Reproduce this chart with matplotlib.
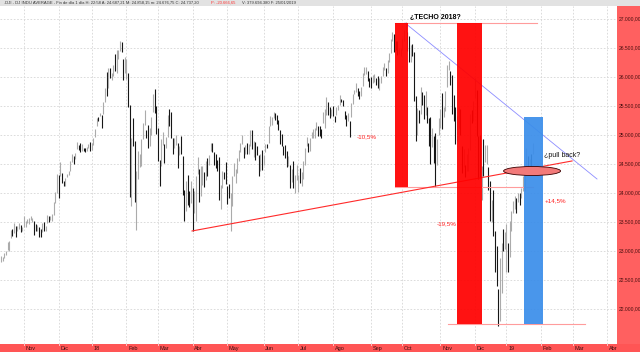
import numpy as np
import pandas as pd
import matplotlib
matplotlib.use("Agg")
import matplotlib.pyplot as plt
from matplotlib.patches import Rectangle, Ellipse
from matplotlib.transforms import blended_transform_factory

plt.rcParams['font.family'] = ['Liberation Sans', 'DejaVu Sans']

# DJIA daily bars, 12 Oct 2017 .. 25 Jan 2019 (one entry per trading day)
closes = [
    # Oct 2017
    22841, 22871, 22957, 22997, 23158, 23163, 23329, 23274, 23441, 23330, 23401, 23434, 23349, 23377,
    # Nov
    23436, 23516, 23539, 23549, 23557, 23564, 23462, 23423, 23440, 23410, 23272, 23458, 23358, 23430,
    23590, 23526, 23558, 23580, 23836, 23940, 24272,
    # Dec
    24231, 24290, 24180, 24140, 24211, 24329, 24386, 24504, 24585, 24509, 24651, 24792, 24754, 24726,
    24782, 24754, 24746, 24775, 24838, 24719,
    # Jan 2018
    24824, 24922, 25075, 25296, 25283, 25385, 25369, 25574, 25803, 25792, 26116, 26017, 26072, 26214,
    26211, 26252, 26393, 26617, 26439, 26076, 26149,
    # Feb
    26186, 25521, 24346, 24913, 24893, 23860, 24191, 24601, 24641, 24893, 25200, 25219, 24965, 24798,
    24963, 25310, 25710, 25410, 25029,
    # Mar
    24608, 24538, 24875, 24885, 24801, 24895, 25336, 25179, 25008, 24759, 24874, 24947, 24611, 24728,
    24683, 23958, 23533, 24202, 23857, 23849, 24103,
    # Apr
    23644, 24033, 24264, 24505, 23933, 23979, 24408, 24190, 24484, 24360, 24573, 24787, 24748, 24665,
    24463, 24448, 24024, 24084, 24322, 24311, 24163,
    # May
    24100, 23925, 23930, 24263, 24357, 24361, 24543, 24740, 24831, 24900, 24707, 24769, 24714, 24715,
    25013, 24834, 24887, 24812, 24753, 24362, 24668, 24416,
    # Jun
    24635, 24813, 24799, 25146, 25241, 25317, 25322, 25320, 25201, 25175, 25090, 24988, 24700, 24658,
    24462, 24581, 24252, 24284, 24118, 24216, 24271,
    # Jul
    24307, 24175, 24357, 24456, 24776, 24920, 24700, 24925, 25019, 25064, 25120, 25200, 25065, 25058,
    25044, 25241, 25415, 25527, 25451, 25307, 25415,
    # Aug
    25333, 25327, 25463, 25502, 25629, 25583, 25509, 25313, 25188, 25300, 25162, 25559, 25669, 25759,
    25823, 25733, 25657, 25790, 26050, 26065, 26124, 25987, 25965,
    # Sep
    25952, 25975, 25996, 25917, 25857, 25971, 25999, 26145, 26155, 26062, 26246, 26406, 26657, 26743,
    26562, 26492, 26385, 26440, 26458,
    # Oct
    26651, 26774, 26828, 26627, 26447, 26487, 26431, 25599, 25053, 25340, 25251, 25799, 25706, 25379,
    25444, 25317, 25191, 24583, 24985, 24689, 24443, 24875, 25116,
    # Nov
    25381, 25271, 25462, 25636, 26180, 26191, 25989, 25388, 25287, 25081, 25290, 25413, 25018, 24465,
    24465, 24286, 24640, 24749, 25366, 25339, 25538,
    # Dec
    25826, 25027, 24947, 24389, 24423, 24370, 24527, 24597, 24101, 23593, 23676, 23324, 22860, 22445,
    21792, 22878, 23139, 23062, 23327,
    # Jan 2019
    23346, 22686, 23433, 23531, 23787, 23880, 23879, 23996, 23910, 24066, 24207, 24370, 24706, 24405,
    24576, 24553, 24737,
]
highs = [
    22906, 22904, 22961, 23002, 23159, 23165, 23368, 23372, 23474, 23433, 23439, 23485, 23445, 23414,
    23602, 23517, 23557, 23565, 23602, 23565, 23518, 23461, 23450, 23418, 23376, 23485, 23497, 23433,
    23617, 23602, 23602, 23638, 23845, 24009, 24327,
    24302, 24534, 24350, 24208, 24258, 24330, 24387, 24552, 24669, 24629, 24690, 24876, 24828, 24859,
    24842, 24784, 24768, 24799, 24843, 24876,
    24864, 24941, 25106, 25299, 25311, 25386, 25340, 25576, 25803, 26087, 26154, 26153, 26072, 26215,
    26392, 26459, 26458, 26617, 26609, 26307, 26338,
    26307, 26062, 25520, 24946, 25294, 24903, 24382, 24720, 24669, 24925, 25203, 25433, 25086, 25174,
    25122, 25310, 25710, 25800, 25505,
    25123, 24565, 24925, 25058, 24839, 24968, 25336, 25449, 25390, 24948, 24950, 25000, 24867, 24817,
    24977, 24633, 24044, 24203, 24314, 24034, 24200,
    24094, 24034, 24300, 24623, 24412, 24458, 24459, 24365, 24555, 24597, 24659, 24858, 24858, 24711,
    24672, 24575, 24627, 24131, 24378, 24367, 24535,
    24117, 24152, 23996, 24300, 24516, 24420, 24597, 24746, 24868, 25002, 24790, 24825, 24868, 24839,
    25087, 25087, 24890, 24879, 24818, 24653, 24680, 24743,
    24656, 24838, 24845, 25147, 25326, 25317, 25403, 25382, 25339, 25264, 25090, 25014, 24817, 24832,
    24732, 24630, 24478, 24407, 24548, 24317, 24482,
    24307, 24431, 24361, 24544, 24776, 24969, 24854, 24951, 25050, 25097, 25126, 25217, 25150, 25150,
    25098, 25388, 25450, 25648, 25569, 25477, 25448,
    25497, 25327, 25488, 25510, 25692, 25629, 25596, 25422, 25350, 25377, 25248, 25559, 25709, 25781,
    25888, 25808, 25764, 25823, 26072, 26167, 26168, 26107, 25974,
    25994, 26031, 26057, 25981, 26022, 25990, 26017, 26172, 26237, 26149, 26288, 26415, 26657, 26769,
    26743, 26617, 26618, 26503, 26492,
    26677, 26817, 26951, 26771, 26700, 26550, 26567, 26427, 25666, 25465, 25436, 25831, 25746, 25686,
    25765, 25487, 25300, 25318, 25119, 24988, 25041, 24923, 25296,
    25452, 25720, 25475, 25764, 26213, 26277, 26096, 26027, 25688, 25491, 25332, 25484, 25453, 24810,
    24758, 24481, 24674, 24769, 25366, 25426, 25581,
    25980, 25773, 24975, 25003, 24471, 24928, 24832, 24832, 24452, 24213, 23886, 24059, 23337, 23087,
    22339, 22879, 23139, 23382, 23333,
    23466, 23139, 23518, 23687, 23864, 23952, 23906, 24005, 23992, 24091, 24286, 24457, 24778, 24636,
    24589, 24680, 24860,
]
lows = [
    22810, 22832, 22881, 22922, 23015, 22999, 23216, 23251, 23308, 23239, 23351, 23375, 23330, 23344,
    23410, 23405, 23476, 23471, 23535, 23496, 23271, 23350, 23340, 23242, 23242, 23320, 23344, 23349,
    23480, 23504, 23527, 23510, 23617, 23829, 24002,
    23922, 24285, 24173, 24112, 24120, 24268, 24313, 24386, 24529, 24508, 24582, 24757, 24742, 24714,
    24728, 24726, 24715, 24720, 24780, 24718,
    24741, 24825, 24963, 25160, 25235, 25324, 25121, 25369, 25577, 25678, 25807, 25985, 25942, 26014,
    26105, 26061, 26316, 26441, 26425, 25949, 26066,
    25961, 25490, 23923, 23779, 24816, 23849, 23360, 24244, 24445, 24472, 24931, 25175, 24942, 24780,
    24807, 25000, 25393, 25377, 25025,
    24547, 24126, 24466, 24824, 24514, 24769, 24973, 25160, 24956, 24666, 24772, 24825, 24434, 24649,
    24668, 23960, 23509, 23696, 23797, 23755, 23835,
    23344, 23663, 23523, 24320, 23848, 23945, 24135, 24105, 24232, 24300, 24475, 24719, 24710, 24474,
    24430, 24378, 23882, 23724, 24093, 24244, 24161,
    23805, 23911, 23344, 23780, 24300, 24179, 24346, 24560, 24715, 24848, 24604, 24669, 24672, 24667,
    24815, 24762, 24622, 24573, 24649, 24285, 24375, 24395,
    24481, 24705, 24767, 24866, 25148, 25180, 25292, 25265, 25191, 25083, 24848, 24815, 24650, 24610,
    24453, 24459, 24084, 24193, 24094, 23997, 24232,
    24022, 24169, 24121, 24242, 24477, 24803, 24698, 24727, 24942, 24954, 24953, 25093, 24983, 24986,
    24948, 25211, 25123, 25337, 25349, 25293, 25335,
    25326, 25226, 25342, 25423, 25518, 25567, 25505, 25268, 25157, 25247, 24966, 25317, 25535, 25708,
    25737, 25670, 25624, 25664, 25844, 26038, 26047, 25937, 25828,
    25810, 25894, 25920, 25859, 25813, 25783, 25897, 26024, 26124, 26012, 26068, 26256, 26422, 26624,
    26429, 26462, 26373, 26402, 26370,
    26468, 26621, 26784, 26447, 26251, 26259, 26367, 25583, 24899, 25002, 25209, 25359, 25509, 25279,
    25352, 25213, 24805, 24500, 24793, 24517, 24123, 24486, 24994,
    25122, 25098, 25308, 25414, 25825, 26120, 25857, 25363, 25244, 24838, 24893, 25124, 24992, 24349,
    24452, 24269, 24374, 24380, 24748, 25210, 25248,
    25636, 24981, 24242, 24266, 23881, 24287, 24527, 24504, 24047, 23519, 23508, 23263, 22642, 22397,
    21713, 21792, 22268, 22997, 23037,
    22638, 22639, 22894, 23346, 23647, 23728, 23653, 23847, 23787, 23905, 24031, 24026, 24480, 24331,
    24412, 24426, 24676,
]

holidays = ['2017-11-23', '2017-12-25', '2018-01-01', '2018-01-15', '2018-02-19', '2018-03-30',
            '2018-05-28', '2018-07-04', '2018-09-03', '2018-11-22', '2018-12-05', '2018-12-25',
            '2019-01-01', '2019-01-21', '2019-02-18']
month_labels = ['Nov', 'Dic', '18', 'Feb', 'Mar', 'Abr', 'May', 'Jun', 'Jul', 'Ago', 'Sep', 'Oct',
                'Nov', 'Dic', '19', 'Feb', 'Mar', 'Abr']
price_ticks = [27000, 26500, 26000, 25500, 25000, 24500, 24000, 23500, 23000, 22500, 22000]

# annotation levels (price) and spans (trading-day index)
techo_level = 26931
rect1 = (238.5, 246.4, 24103, techo_level)
rect2 = (276.1, 291.2, 21741, techo_level)
rect_blue = (316.7, 328.1, 21741, 25310)
hlines = [(techo_level, 238.5, 324.5), (24103, 238.5, 322.0), (21741, 270.6, 353.6)]
support = ([115.7, 345.7], [23345, 24552])
resistance = ([244.6, 360.8], [techo_level, 24241])

dates = pd.bdate_range('2017-10-12', '2019-04-30', freq='C', holidays=holidays)
month_idx = [i for i in range(1, len(dates)) if dates[i].month != dates[i - 1].month]

W, H = 640, 352
fig = plt.figure(figsize=(6.4, 3.52), dpi=100)
ax = fig.add_axes([0, 8 / H, 617 / W, 338 / H])
ax.set_zorder(3)
ax.set_xlim(-0.54, 372.9)
ax.set_ylim(21396, 27224)
for s in ax.spines.values():
    s.set_visible(False)
ax.set_xticks([])
ax.set_yticks([])

# grid
for m in month_idx:
    ax.axvline(m, color='#d6d6d6', lw=0.6, ls=(0, (2, 2)), zorder=0)
for p in price_ticks:
    ax.axhline(p, color='#d6d6d6', lw=0.6, ls=(0, (2, 2)), zorder=0)

# bars
idx = np.arange(len(closes))
c = np.array(closes)
up = np.r_[True, c[1:] >= c[:-1]]
cols = np.where(up, '#ababab', '#161616')
ax.vlines(idx, lows, highs, colors=cols, lw=0.8, zorder=2)

# drawings
ax.plot(*support, color='#ff2a2a', lw=0.8, zorder=4)
ax.plot(*resistance, color='#8c8cff', lw=0.6, zorder=4)
for lvl, x0, x1 in hlines:
    ax.plot([x0, x1], [lvl, lvl], color='#ff9c9c', lw=0.8, zorder=3)
for (x0, x1, y0, y1), col in [(rect1, '#ff0000'), (rect2, '#ff0000'), (rect_blue, '#3b8eea')]:
    ax.add_patch(Rectangle((x0, y0), x1 - x0, y1 - y0, facecolor=col, edgecolor='none',
                           alpha=0.93, zorder=5))
ax.add_patch(Ellipse((321.5, 24379), 34.5, 155, facecolor='#f27a7a', edgecolor='#3a0000',
                     lw=0.6, zorder=6))

ax.text(262.8, 27034, '¿TECHO 2018?', fontsize=5, fontweight='bold', ha='center', va='center', zorder=7)
ax.text(221.6, 24966, '-10,5%', fontsize=4.5, color='#ff2020', ha='center', va='center')
ax.text(270.0, 23466, '-19,5%', fontsize=4.5, color='#ff2020', ha='center', va='center', zorder=7)
ax.text(335.4, 23862, '+14,5%', fontsize=4.5, color='#ff2020', ha='center', va='center')
ax.text(339.6, 24638, '¿pull back?', fontsize=5, color='#111111', ha='center', va='center', zorder=7)

# frame pieces: header bar, right price band, bottom date band
fig.patches.append(Rectangle((0, 1 - 6 / H), 1, 6 / H, transform=fig.transFigure,
                             facecolor='#e2e2e2', edgecolor='none', zorder=0))
fig.patches.append(Rectangle((617 / W, 8 / H), 23 / W, 338 / H, transform=fig.transFigure,
                             facecolor='#ff6060', edgecolor='none', zorder=0))
fig.patches.append(Rectangle((0, 0), 1, 8 / H, transform=fig.transFigure,
                             facecolor='#ff5555', edgecolor='none', zorder=0))

ty = blended_transform_factory(fig.transFigure, ax.transData)
for p in price_ticks:
    ax.text(618.5 / W, p, f'{p:,.2f}'.replace(',', 'X').replace('.', ',').replace('X', '.'),
            transform=ty, fontsize=3.6, color='#4a1010', va='center', ha='left', clip_on=False)

tx = blended_transform_factory(ax.transData, fig.transFigure)
for m, lab in zip(month_idx, month_labels):
    ax.plot([m, m], [7 / H, 8 / H], transform=tx, color='#ffdddd', lw=0.6, clip_on=False)
    ax.text(m + 1.0, 3.5 / H, lab, transform=tx, fontsize=4, color='#3a1010',
            va='center', ha='left', clip_on=False)

hy = 1 - 3 / H
fig.text(4 / W, hy, '.DJI - DJ INDU AVERAGE - Fin de día 1 día H: 22:58 A: 24.687,21 '
         'M: 24.858,15 m: 24.676,75 C: 24.737,20', fontsize=3, color='#333333', va='center')
fig.text(211 / W, hy, 'P: -20.666,65', fontsize=3, color='#ff3030', va='center')
fig.text(242 / W, hy, 'V: 379.694.380 F: 25/01/2019', fontsize=3, color='#333333', va='center')

fig.savefig('out.png', dpi=100)
